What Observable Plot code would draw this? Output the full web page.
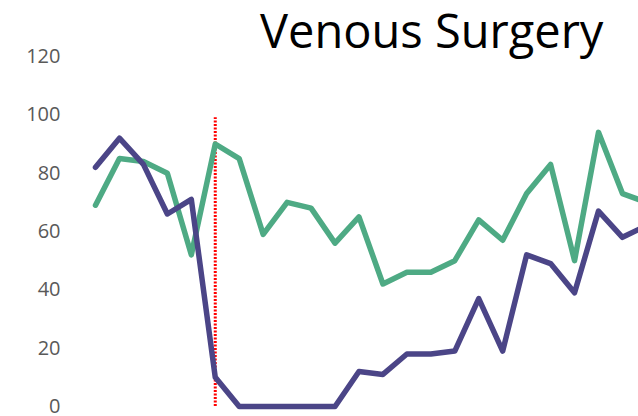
<!DOCTYPE html>
<html>
<head>
<meta charset="utf-8">
<script src="https://cdn.jsdelivr.net/npm/d3@7"></script>
<script src="https://cdn.jsdelivr.net/npm/@observablehq/plot@0.6"></script>
<style>
  html, body { margin: 0; padding: 0; background: #fff; overflow: hidden; }
  #wrap { position: relative; width: 638px; height: 416px; overflow: hidden; }
  #title { position: absolute; left: 260px; top: 2px; font-family: "Open Sans", sans-serif; font-size: 47px; line-height: 56px; color: #000; white-space: nowrap; }
</style>
</head>
<body>
<div id="wrap">
  <div id="chart"></div>
  <div id="title">Venous Surgery</div>
</div>
<script>
// Periods (no visible x labels in the reference)
const periods = d3.range(24);
// Series values
const seriesGreen = [69, 85, 84, 80, 52, 90, 85, 59, 70, 68, 56, 65, 42, 46, 46, 50, 64, 57, 73, 83, 50, 94, 73, 70];
const seriesPurple = [82, 92, 83, 66, 71, 10, 0, 0, 0, 0, 0, 12, 11, 18, 18, 19, 37, 19, 52, 49, 39, 67, 58, 62];
const seriesNames = ["Series A", "Series B"];
const seriesColors = ["#4eaa84", "#4b4587"];
const yTicks = [0, 20, 40, 60, 80, 100, 120];
// Event marker (red dotted vertical line)
const eventPeriods = [5];
const eventTops = [99];

const rows = [
  ...periods.map((p, i) => ({period: p, value: seriesGreen[i], series: seriesNames[0]})),
  ...periods.map((p, i) => ({period: p, value: seriesPurple[i], series: seriesNames[1]}))
];
const events = eventPeriods.map((p, i) => ({period: p, top: eventTops[i]}));

const chart = Plot.plot({
  width: 638,
  height: 416,
  marginTop: 56,
  marginBottom: 10,
  marginLeft: 61,
  marginRight: 0,
  style: {fontFamily: "Open Sans, sans-serif", fontSize: "20px", color: "#595959", background: "#fff", overflow: "hidden"},
  x: {domain: [0, 23], range: [95, 645.9], axis: null},
  y: {domain: [0, 120], axis: null},
  color: {domain: seriesNames, range: seriesColors},
  marks: [
    Plot.axisY(yTicks, {tickSize: 0, tickPadding: 1, fill: "#595959", fontSize: 20}),
    Plot.ruleX(events, {x: "period", y1: 0, y2: "top", stroke: "#ff0000", strokeWidth: 3, strokeDasharray: "2,1.5"}),
    Plot.line(rows, {x: "period", y: "value", z: "series", stroke: "series", strokeWidth: 5.5, strokeLinejoin: "round", strokeLinecap: "round"})
  ]
});
document.getElementById("chart").appendChild(chart);
</script>
</body>
</html>
